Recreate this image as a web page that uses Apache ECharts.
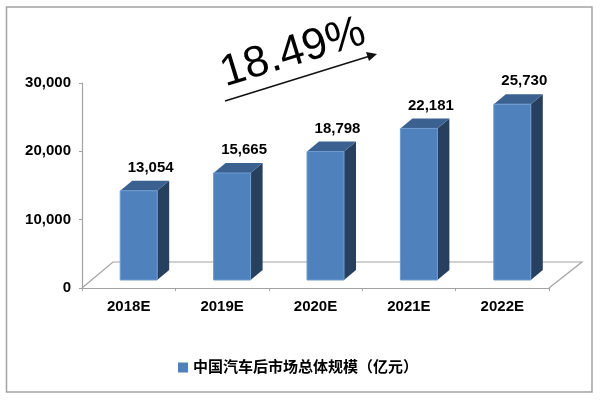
<!DOCTYPE html>
<html>
<head>
<meta charset="utf-8">
<style>html,body{margin:0;padding:0;background:#fff}#c{width:600px;height:400px}</style>
<script src="https://cdn.jsdelivr.net/npm/echarts@6/dist/echarts.min.js"></script>
</head>
<body>
<div id="c"></div>
<script>
var categories = ['2018E', '2019E', '2020E', '2021E', '2022E'];
var values = [13054, 15665, 18798, 22181, 25730];
var valueLabels = ['13,054', '15,665', '18,798', '22,181', '25,730'];
var seriesName = '中国汽车后市场总体规模（亿元）';
var growthLabel = '18.49%';
var yMax = 30000;
var yStep = 10000;

var LATIN = '"Liberation Sans", Arial, sans-serif';
var CJK = '"Liberation Sans", "Noto Sans CJK SC", sans-serif';
var FRONT = '#4f81bd', TOP = '#3b6191', SIDE = '#274060', EDGE = '#6f9bd0', GREY = '#a3a3a3';
var BAR_W = 37, DX = 12, DY = 10, SHIFT_X = 10, SHIFT_Y = 8;

function renderBar(params, api) {
  var p = api.coord([api.value(0), api.value(1)]);
  var base = api.coord([api.value(0), 0]);
  var x0 = p[0] + SHIFT_X - BAR_W / 2, x1 = x0 + BAR_W;
  var yt = p[1] - SHIFT_Y, yb = base[1] - SHIFT_Y;
  return {
    type: 'group',
    children: [
      { type: 'polygon', shape: { points: [[x1, yt], [x1 + DX, yt - DY], [x1 + DX, yb - DY], [x1, yb]] },
        style: { fill: SIDE } },
      { type: 'polygon', shape: { points: [[x0, yt], [x0 + DX, yt - DY], [x1 + DX, yt - DY], [x1, yt]] },
        style: { fill: TOP } },
      { type: 'rect', shape: { x: x0, y: yt, width: BAR_W, height: yb - yt },
        style: { fill: FRONT, stroke: EDGE, lineWidth: 1 } },
      { type: 'text', x: x0 + BAR_W / 2 + DX, y: yt - DY - 13,
        style: { text: valueLabels[params.dataIndex], fill: '#000', align: 'center', verticalAlign: 'middle',
                 font: 'bold 15px ' + LATIN } }
    ]
  };
}

var chart = echarts.init(document.getElementById('c'), null, { renderer: 'canvas' });
chart.setOption({
  animation: false,
  backgroundColor: '#fff',
  grid: { left: 82, right: 51, top: 83, bottom: 112, containLabel: false },
  legend: {
    show: true, left: 173, top: 355, itemWidth: 10, itemHeight: 10, itemGap: 5,
    icon: 'rect',
    textStyle: { fontFamily: CJK, fontWeight: 'bold', fontSize: 15, color: '#000' },
    data: [{ name: seriesName, itemStyle: { color: FRONT } }]
  },
  xAxis: {
    type: 'category', data: categories,
    axisLine: { lineStyle: { color: GREY, width: 1.2 } },
    axisTick: { show: true, alignWithLabel: false, length: 3, inside: false, lineStyle: { color: GREY } },
    axisLabel: { color: '#000', fontFamily: LATIN, fontWeight: 'bold', fontSize: 15, margin: 11 },
    splitLine: { show: false }
  },
  yAxis: {
    type: 'value', min: 0, max: yMax, interval: yStep,
    axisLine: { show: true, lineStyle: { color: GREY, width: 1.2 } },
    axisTick: { show: true, length: 3, lineStyle: { color: GREY } },
    axisLabel: { color: '#000', fontFamily: LATIN, fontWeight: 'bold', fontSize: 15, margin: 11,
      formatter: function (v) { return v.toLocaleString('en-US'); } },
    splitLine: { show: false }
  },
  series: [{
    type: 'custom', name: seriesName, renderItem: renderBar, z: 5,
    encode: { x: 0, y: 1 }, clip: false,
    data: values.map(function (v, i) { return [i, v]; }),
    itemStyle: { color: FRONT }
  }],
  graphic: [
    { type: 'rect', z: -1, shape: { x: 6.5, y: 7, width: 585.5, height: 385 },
      style: { fill: 'none', stroke: GREY, lineWidth: 1.5 } },
    { type: 'polyline', z: 1, shape: { points: [[82, 288], [113, 262], [582, 262], [549, 288]] },
      style: { fill: 'none', stroke: GREY, lineWidth: 1.2 } },
    { type: 'line', z: 6, shape: { x1: 225, y1: 101, x2: 370, y2: 56 },
      style: { stroke: '#111', lineWidth: 1.6 } },
    { type: 'polygon', z: 6, shape: { points: [[377, 54], [366, 52], [369, 61]] },
      style: { fill: '#111' } },
    { type: 'text', z: 6, x: 293, y: 53, rotation: 17 * Math.PI / 180,
      style: { text: growthLabel, fill: '#000', align: 'center', verticalAlign: 'middle',
               font: 'normal 44px ' + LATIN } }
  ]
});
</script>
</body>
</html>
